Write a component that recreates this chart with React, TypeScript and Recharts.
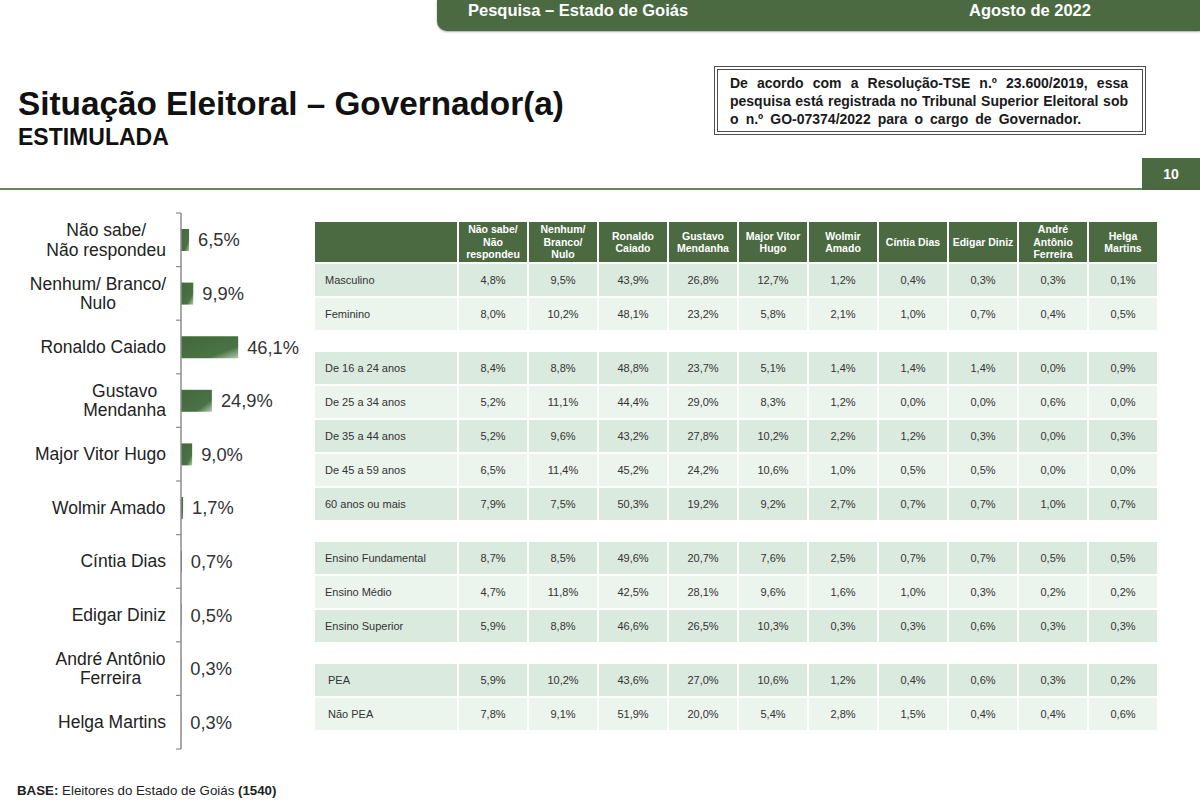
import React from 'react';
import { BarChart, Bar, XAxis, YAxis, LabelList } from 'recharts';

// Intenção de voto estimulada (total)
const candidates = [
  'Não sabe/\nNão respondeu',
  'Nenhum/ Branco/\nNulo',
  'Ronaldo Caiado',
  'Gustavo\nMendanha',
  'Major Vitor Hugo',
  'Wolmir Amado',
  'Cíntia Dias',
  'Edigar Diniz',
  'André Antônio\nFerreira',
  'Helga Martins',
];
const totals = [6.5, 9.9, 46.1, 24.9, 9.0, 1.7, 0.7, 0.5, 0.3, 0.3];

// Tabela por segmento
const tableHeaders = [
  'Não sabe/\nNão\nrespondeu',
  'Nenhum/\nBranco/\nNulo',
  'Ronaldo\nCaiado',
  'Gustavo\nMendanha',
  'Major Vitor\nHugo',
  'Wolmir\nAmado',
  'Cíntia Dias',
  'Edigar Diniz',
  'André\nAntônio\nFerreira',
  'Helga\nMartins',
];

const sexoLabels = ['Masculino', 'Feminino'];
const sexoValues = [
  [4.8, 9.5, 43.9, 26.8, 12.7, 1.2, 0.4, 0.3, 0.3, 0.1],
  [8.0, 10.2, 48.1, 23.2, 5.8, 2.1, 1.0, 0.7, 0.4, 0.5],
];

const idadeLabels = ['De 16 a 24 anos', 'De 25 a 34 anos', 'De 35 a 44 anos', 'De 45 a 59 anos', '60 anos ou mais'];
const idadeValues = [
  [8.4, 8.8, 48.8, 23.7, 5.1, 1.4, 1.4, 1.4, 0.0, 0.9],
  [5.2, 11.1, 44.4, 29.0, 8.3, 1.2, 0.0, 0.0, 0.6, 0.0],
  [5.2, 9.6, 43.2, 27.8, 10.2, 2.2, 1.2, 0.3, 0.0, 0.3],
  [6.5, 11.4, 45.2, 24.2, 10.6, 1.0, 0.5, 0.5, 0.0, 0.0],
  [7.9, 7.5, 50.3, 19.2, 9.2, 2.7, 0.7, 0.7, 1.0, 0.7],
];

const escolaridadeLabels = ['Ensino Fundamental', 'Ensino Médio', 'Ensino Superior'];
const escolaridadeValues = [
  [8.7, 8.5, 49.6, 20.7, 7.6, 2.5, 0.7, 0.7, 0.5, 0.5],
  [4.7, 11.8, 42.5, 28.1, 9.6, 1.6, 1.0, 0.3, 0.2, 0.2],
  [5.9, 8.8, 46.6, 26.5, 10.3, 0.3, 0.3, 0.6, 0.3, 0.3],
];

const peaLabels = ['PEA', 'Não PEA'];
const peaValues = [
  [5.9, 10.2, 43.6, 27.0, 10.6, 1.2, 0.4, 0.6, 0.3, 0.2],
  [7.8, 9.1, 51.9, 20.0, 5.4, 2.8, 1.5, 0.4, 0.4, 0.6],
];

const groups = [
  { labels: sexoLabels, values: sexoValues },
  { labels: idadeLabels, values: idadeValues },
  { labels: escolaridadeLabels, values: escolaridadeValues },
  { labels: peaLabels, values: peaValues },
];

const GREEN = '#4b6a42';
const FONT = "'Liberation Sans', Arial, sans-serif";
const fmt = (v: number) => v.toFixed(1).replace('.', ',') + '%';

// chart geometry
const CHART_W = 310;
const CHART_H = 560;
const MARGIN = { top: 13, right: 5, bottom: 11, left: 0 };
const AXIS_X = 181;
const PLOT_H = CHART_H - MARGIN.top - MARGIN.bottom;
const BAND = PLOT_H / candidates.length;
const LABEL_SIZE = 17.5;

let ctx: CanvasRenderingContext2D | null = null;
const measure = (t: string) => {
  if (!ctx) {
    ctx = document.createElement('canvas').getContext('2d');
    if (ctx) ctx.font = `${LABEL_SIZE}px 'Liberation Sans'`;
  }
  return ctx ? ctx.measureText(t).width : t.length * 8;
};

const CategoryTick = (props: any) => {
  const { y, payload, index } = props;
  const lines = String(payload.value).split('\n');
  const maxW = Math.max(...lines.map(measure));
  const right = AXIS_X - 15;
  const cx = right - maxW / 2;
  const lh = 19.5;
  const top = y - BAND / 2;
  return (
    <g>
      <line x1={AXIS_X - 5} x2={AXIS_X} y1={top} y2={top} stroke="#8c8c8c" strokeWidth={1.2} />
      {index === candidates.length - 1 && (
        <line x1={AXIS_X - 5} x2={AXIS_X} y1={y + BAND / 2} y2={y + BAND / 2} stroke="#8c8c8c" strokeWidth={1.2} />
      )}
      <text x={cx} y={y} textAnchor="middle" fill="#222" fontSize={LABEL_SIZE} fontFamily={FONT}>
        {lines.map((l, i) => (
          <tspan key={i} x={cx} dy={i === 0 ? (-(lines.length - 1) / 2) * lh + 6 : lh}>
            {l}
          </tspan>
        ))}
      </text>
    </g>
  );
};

const chartData = candidates.map((name, i) => ({ name, value: totals[i] }));

const Table = () => {
  const firstW = 144;
  const colW = 70;
  const gap = 2;
  let top = 222;
  const rows: React.ReactNode[] = [];
  rows.push(
    <div key="h" style={{ position: 'absolute', left: 315, top, display: 'flex', height: 40 }}>
      <div style={{ width: firstW - gap, marginRight: gap, background: GREEN }} />
      {tableHeaders.map((h, i) => (
        <div
          key={i}
          style={{
            width: colW - gap,
            marginRight: i === tableHeaders.length - 1 ? 0 : gap,
            background: GREEN,
            color: '#fff',
            fontWeight: 'bold',
            fontSize: 10.5,
            lineHeight: '12.5px',
            textAlign: 'center',
            display: 'flex',
            alignItems: 'center',
            justifyContent: 'center',
            whiteSpace: 'pre',
            overflow: 'hidden',
          }}
        >
          {h}
        </div>
      ))}
    </div>
  );
  top += 42;
  groups.forEach((g, gi) => {
    g.labels.forEach((label, ri) => {
      const bg = ri % 2 === 0 ? '#dbeadf' : '#ebf4ed';
      rows.push(
        <div key={`${gi}-${ri}`} style={{ position: 'absolute', left: 315, top, display: 'flex', height: 32 }}>
          <div
            style={{
              width: firstW - gap,
              marginRight: gap,
              background: bg,
              fontSize: 11,
              color: '#333',
              paddingLeft: gi === 3 ? 13 : 10,
              boxSizing: 'border-box',
              display: 'flex',
              alignItems: 'center',
            }}
          >
            {label}
          </div>
          {g.values[ri].map((v, ci) => (
            <div
              key={ci}
              style={{
                width: colW - gap,
                marginRight: ci === g.values[ri].length - 1 ? 0 : gap,
                background: bg,
                fontSize: 11,
                color: '#333',
                display: 'flex',
                alignItems: 'center',
                justifyContent: 'center',
              }}
            >
              {fmt(v)}
            </div>
          ))}
        </div>
      );
      top += 34;
    });
    top += 20;
  });
  return <>{rows}</>;
};

export default function App() {
  return (
    <div style={{ position: 'relative', width: 1200, height: 800, overflow: 'hidden', background: '#fff', fontFamily: FONT }}>
      <style>{`body{margin:0;}`}</style>

      {/* top banner */}
      <div
        style={{
          position: 'absolute',
          left: 437,
          top: 0,
          width: 763,
          height: 31,
          background: GREEN,
          borderBottomLeftRadius: 10,
          boxShadow: '0 1px 2px rgba(0,0,0,0.35)',
        }}
      />
      <div style={{ position: 'absolute', left: 468, top: 1, color: '#fff', fontWeight: 'bold', fontSize: 16.5, lineHeight: '19px' }}>
        Pesquisa – Estado de Goiás
      </div>
      <div style={{ position: 'absolute', left: 969, top: 1, color: '#fff', fontWeight: 'bold', fontSize: 16.5, lineHeight: '19px' }}>
        Agosto de 2022
      </div>

      {/* title */}
      <div style={{ position: 'absolute', left: 18, top: 87, fontSize: 33.3, lineHeight: '33px', fontWeight: 'bold', color: '#111', whiteSpace: 'nowrap' }}>
        Situação Eleitoral – Governador(a)
      </div>
      <div style={{ position: 'absolute', left: 18, top: 126, fontSize: 23, lineHeight: '23px', fontWeight: 'bold', color: '#111' }}>
        ESTIMULADA
      </div>

      {/* registration box */}
      <div
        style={{
          position: 'absolute',
          left: 714,
          top: 66,
          width: 432,
          height: 69,
          boxSizing: 'border-box',
          border: '4px double #4d4d4d',
          padding: '4px 14px 0 12px',
          fontSize: 14,
          lineHeight: '18px',
          fontWeight: 'bold',
          color: '#1a1a1a',
        }}
      >
        <div style={{ textAlign: 'justify', textAlignLast: 'justify' }}>De acordo com a Resolução-TSE n.º 23.600/2019, essa</div>
        <div style={{ textAlign: 'justify', textAlignLast: 'justify' }}>pesquisa está registrada no Tribunal Superior Eleitoral sob</div>
        <div style={{ wordSpacing: 3.2 }}>o n.º GO-07374/2022 para o cargo de Governador.</div>
      </div>

      {/* divider + page number */}
      <div style={{ position: 'absolute', left: 0, top: 188, width: 1142, height: 2, background: '#65855a' }} />
      <div
        style={{
          position: 'absolute',
          left: 1142,
          top: 158,
          width: 58,
          height: 32,
          background: GREEN,
          color: '#fff',
          fontWeight: 'bold',
          fontSize: 14,
          display: 'flex',
          alignItems: 'center',
          justifyContent: 'center',
        }}
      >
        10
      </div>

      {/* bar chart */}
      <div style={{ position: 'absolute', left: 0, top: 200 }}>
        <BarChart width={CHART_W} height={CHART_H} data={chartData} layout="vertical" margin={MARGIN}>
          <defs>
            <linearGradient id="barGrad" x1="0" y1="0" x2="1" y2="1">
              <stop offset="0%" stopColor="#42683b" />
              <stop offset="72%" stopColor="#4b7244" />
              <stop offset="100%" stopColor="#b3cbac" />
            </linearGradient>
          </defs>
          <XAxis type="number" domain={[0, 100]} hide />
          <YAxis
            type="category"
            dataKey="name"
            width={AXIS_X}
            interval={0}
            axisLine={{ stroke: '#8c8c8c', strokeWidth: 1.5 }}
            tickLine={false}
            tick={<CategoryTick />}
          />
          <Bar dataKey="value" fill="url(#barGrad)" barSize={22} isAnimationActive={false}>
            <LabelList
              dataKey="value"
              position="right"
              offset={9}
              formatter={(v: any) => fmt(Number(v))}
              style={{ fontSize: 18.3, fill: '#333', fontFamily: FONT }}
            />
          </Bar>
        </BarChart>
      </div>

      {/* segment table */}
      <Table />

      {/* footer */}
      <div style={{ position: 'absolute', left: 17, top: 783, fontSize: 13.3, lineHeight: '16px', color: '#222' }}>
        <b>BASE:</b> Eleitores do Estado de Goiás <b>(1540)</b>
      </div>
    </div>
  );
}
